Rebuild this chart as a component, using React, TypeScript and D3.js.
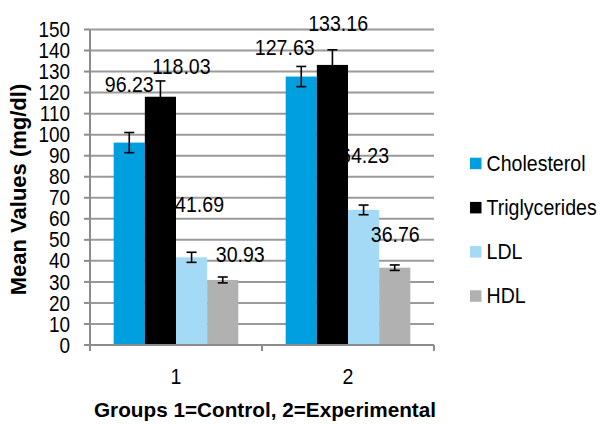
import React from "react";
import * as d3 from "d3";

const groups = ["1", "2"];
const series = ["Cholesterol", "Triglycerides", "LDL", "HDL"];
const cholesterol = [96.23, 127.63];
const triglycerides = [118.03, 133.16];
const ldl = [41.69, 64.23];
const hdl = [30.93, 36.76];
const cholesterolErr = [4.8, 4.8];
const triglyceridesErr = [7.5, 7.2];
const ldlErr = [2.4, 2.3];
const hdlErr = [1.4, 1.3];
const yTicks = [0, 10, 20, 30, 40, 50, 60, 70, 80, 90, 100, 110, 120, 130, 140, 150];
const colors = ["#009FE0", "#000000", "#A5DAF6", "#B1B1B1"];

// layout (label nudges in px relative to bar centre / bar top)
const labelDx = [
  [0, 21, 8, 17.5],
  [-16.5, 5.7, 1, 0.5],
];
const labelDy = [
  [-50.9, -22.7, -45.6, -18.2],
  [-21.6, -34.2, -46.6, -26],
];
const labelOnTop = [false, false, false, true];

const W = 600;
const H = 424;
const left = 90;
const right = 434;
const top = 29.5;
const bottom = 345;
const FONT = "'Liberation Sans', Arial, sans-serif";
const SX = 0.89;

const T = ({ x, y, anchor = "middle", size = 22, sx = SX, bold = false, children }: any) => (
  <text
    transform={`translate(${x},${y}) scale(${sx},1)`}
    textAnchor={anchor}
    fontSize={size}
    fontFamily={FONT}
    fontWeight={bold ? "bold" : "normal"}
    fill="#000"
  >
    {children}
  </text>
);

export default function App() {
  const values = [cholesterol, triglycerides, ldl, hdl];
  const errs = [cholesterolErr, triglyceridesErr, ldlErr, hdlErr];
  const y = d3.scaleLinear().domain([0, 150]).range([bottom, top]);
  const x0 = d3.scaleBand().domain(groups).range([left, right]).paddingInner(0).paddingOuter(0);
  const x1 = d3
    .scaleBand()
    .domain(series)
    .range([0, x0.bandwidth()])
    .paddingInner(0)
    .paddingOuter(0.76);

  const labels = (onTop: boolean) =>
    groups.map((g, gi) =>
      series.map((s, si) =>
        labelOnTop[si] === onTop ? (
          <T
            key={g + s + "l"}
            x={(x0(g) as number) + (x1(s) as number) + x1.bandwidth() / 2 + labelDx[gi][si]}
            y={y(values[si][gi]) + labelDy[gi][si]}
          >
            {values[si][gi].toFixed(2)}
          </T>
        ) : null
      )
    );

  return (
    <svg width={W} height={H} style={{ position: "absolute", left: 0, top: 0, background: "#fff" }}>
      <rect x={0} y={0} width={W} height={H} fill="#fff" />
      {/* gridlines */}
      {yTicks.slice(1).map((t) => (
        <line key={t} x1={left} x2={right} y1={y(t)} y2={y(t)} stroke="#9a9a9a" strokeWidth={2} />
      ))}
      {/* data labels (behind bars) */}
      {labels(false)}
      {/* bars */}
      {groups.map((g, gi) =>
        series.map((s, si) => (
          <rect
            key={g + s}
            x={(x0(g) as number) + (x1(s) as number)}
            y={y(values[si][gi])}
            width={x1.bandwidth()}
            height={bottom - y(values[si][gi])}
            fill={colors[si]}
          />
        ))
      )}
      {labels(true)}
      {/* error bars */}
      {groups.map((g, gi) =>
        series.map((s, si) => {
          const cx = (x0(g) as number) + (x1(s) as number) + x1.bandwidth() / 2;
          const v = values[si][gi];
          const e = errs[si][gi];
          const y1 = y(v + e);
          const y2 = y(v - e);
          return (
            <g key={g + s + "e"} stroke="#000" strokeWidth={1.6}>
              <line x1={cx} x2={cx} y1={y1} y2={y2} />
              <line x1={cx - 5} x2={cx + 5} y1={y1} y2={y1} />
              <line x1={cx - 5} x2={cx + 5} y1={y2} y2={y2} />
            </g>
          );
        })
      )}
      {/* axes */}
      <line x1={left} x2={left} y1={top} y2={bottom} stroke="#8c8c8c" strokeWidth={2} />
      {yTicks.map((t) => (
        <line key={"tk" + t} x1={left - 6} x2={left} y1={y(t)} y2={y(t)} stroke="#8c8c8c" strokeWidth={2} />
      ))}
      <line x1={left} x2={right} y1={bottom} y2={bottom} stroke="#8c8c8c" strokeWidth={2} />
      {[left, ...groups.map((g) => (x0(g) as number) + x0.bandwidth())].map((xx, i) => (
        <line key={"xt" + i} x1={xx} x2={xx} y1={bottom} y2={bottom + 6} stroke="#8c8c8c" strokeWidth={2} />
      ))}
      {yTicks.map((t) => (
        <T key={"yl" + t} x={70} y={y(t) + 7.6} anchor="end" sx={0.86}>
          {t}
        </T>
      ))}
      {groups.map((g) => (
        <T key={"xl" + g} x={(x0(g) as number) + x0.bandwidth() / 2} y={384}>
          {g}
        </T>
      ))}
      {/* axis titles */}
      <text
        x={265}
        y={417}
        textAnchor="middle"
        fontSize={21}
        fontWeight="bold"
        fontFamily={FONT}
        textLength={342}
        lengthAdjust="spacingAndGlyphs"
      >
        Groups 1=Control, 2=Experimental
      </text>
      <text
        transform={`translate(26,${189.5}) rotate(-90)`}
        textAnchor="middle"
        fontSize={22}
        fontWeight="bold"
        fontFamily={FONT}
      >
        Mean Values (mg/dl)
      </text>
      {/* legend */}
      {series.map((s, i) => {
        const by = 170.7 + i * 44.2;
        return (
          <g key={"lg" + s}>
            <rect x={470} y={by - 13} width={11.5} height={11.5} fill={colors[i]} />
            <T x={486.5} y={by} anchor="start" sx={0.89}>
              {s}
            </T>
          </g>
        );
      })}
    </svg>
  );
}
